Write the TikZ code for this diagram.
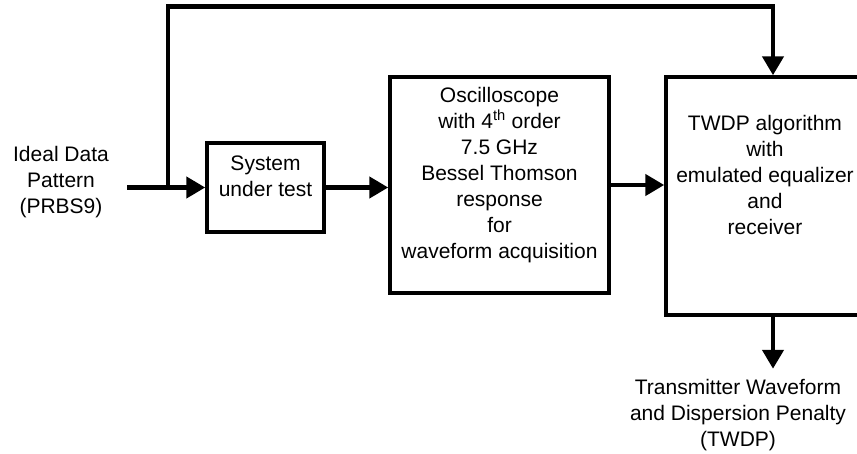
\documentclass[tikz,border=0pt]{standalone}
\usepackage{fontspec}
\setmainfont{Liberation Sans}
\usetikzlibrary{arrows.meta,calc}

\begin{document}
\begin{tikzpicture}[x=1pt,y=-1pt,>={Triangle[length=19pt,width=21pt]},
        flow/.style={->,line width=4.5pt},
        block/.style={rectangle,draw,line width=3.5pt},
        label text/.style={align=center,inner sep=0pt,font=\fontsize{21}{26}\selectfont}]
            \useasboundingbox (0,0) rectangle (857,453);
            % boxes
            \node[block,minimum width=117pt,minimum height=89pt] (sut) at (265.5,187.5) {};
            \node[block,minimum width=219pt,minimum height=216pt] (osc) at (499.5,185) {};
            \node[block,minimum width=214pt,minimum height=238pt] (twdp) at (773,196) {};
            % texts
            \node[label text] (sut text) at ([yshift=11.5pt]sut.center) {System\\under test};
            \node[label text] (osc text) at ([yshift=10pt]osc.center) {Oscilloscope\\with 4\textsuperscript{th} order\\7.5 GHz\\Bessel Thomson\\response\\for\\waveform acquisition};
            \node[label text] (twdp text) at ([xshift=-8pt,yshift=21.5pt]twdp.center) {TWDP algorithm\\with\\emulated equalizer\\and\\receiver};
            \node[label text] (in text) at (61,182) {Ideal Data\\Pattern\\(PRBS9)};
            \node[label text] (out text) at (738,415) {Transmitter Waveform\\and Dispersion Penalty\\(TWDP)};
            \coordinate (in) at (127,187.5);
            \coordinate (fb) at (168,187.5);
            \coordinate (out) at ([yshift=-52pt]twdp.south);
            % connectors
            \draw[flow] (in) -- (sut.west);
            \draw[flow] (sut.east) -- (sut.east -| osc.west);
            \draw[flow] (osc.east) -- (osc.east -| twdp.west);
            \draw[flow] (fb) |- ([yshift=69pt]twdp.north) -- (twdp.north);
            \draw[flow] (twdp.south) -- (out);
        \end{tikzpicture}
\end{document}
